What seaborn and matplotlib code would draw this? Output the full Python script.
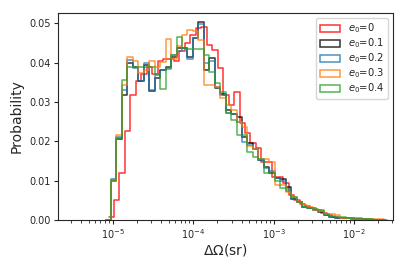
import numpy as np
import pandas as pd
import matplotlib
matplotlib.use("Agg")
import matplotlib.pyplot as plt
from matplotlib.patches import Patch
import seaborn as sns

# bin layout (log10 of solid angle)
bin_width = 0.0679
n_bins = 51
start_main = -5.090   # e0 = 0.1 ... 0.4
start_red = -5.053    # e0 = 0 is shifted a bit to the right

labels = [r"$e_0$=0", r"$e_0$=0.1", r"$e_0$=0.2", r"$e_0$=0.3", r"$e_0$=0.4"]
colors = ["red", "black", "tab:blue", "tab:orange", "tab:green"]

p_e00 = [0.0008, 0.005, 0.012, 0.0225, 0.0318, 0.0352, 0.037, 0.039, 0.037, 0.0403,
         0.0409, 0.041, 0.0405, 0.043, 0.045, 0.0471, 0.0488, 0.049, 0.0445, 0.0433,
         0.0386, 0.0318, 0.0293, 0.0325, 0.0246, 0.022, 0.0195, 0.0182, 0.0148, 0.0148,
         0.011, 0.011, 0.0093, 0.0064, 0.005, 0.0042, 0.0035, 0.003, 0.0025, 0.0019,
         0.0012, 0.0008, 0.0006, 0.0005, 0.0004, 0.0003, 0.0002, 0.0002, 0.0001, 0.0001, 0.0]
p_e01 = [0.0, 0.010, 0.0205, 0.0318, 0.040, 0.039, 0.0352, 0.0395, 0.0329, 0.036,
         0.038, 0.039, 0.0415, 0.0437, 0.0437, 0.0413, 0.0462, 0.0502, 0.038, 0.0411,
         0.0335, 0.032, 0.028, 0.027, 0.0263, 0.021, 0.0195, 0.018, 0.0153, 0.0135,
         0.012, 0.0108, 0.0105, 0.0085, 0.0053, 0.0047, 0.0034, 0.003, 0.0025, 0.002,
         0.0014, 0.0008, 0.0006, 0.0005, 0.0004, 0.0003, 0.0002, 0.0002, 0.0001, 0.0001, 0.0]
p_e02 = [0.0, 0.0105, 0.021, 0.033, 0.0406, 0.0386, 0.0352, 0.0399, 0.0331, 0.0369,
         0.038, 0.0386, 0.042, 0.043, 0.0437, 0.041, 0.0462, 0.0498, 0.040, 0.0404,
         0.0338, 0.0318, 0.0271, 0.027, 0.025, 0.0199, 0.019, 0.018, 0.0153, 0.0131,
         0.0125, 0.0106, 0.010, 0.008, 0.0053, 0.0047, 0.0034, 0.003, 0.0025, 0.0022,
         0.0013, 0.0007, 0.0006, 0.0006, 0.0004, 0.0003, 0.0003, 0.0002, 0.0002, 0.0001, 0.0]
p_e03 = [0.0, 0.010, 0.0215, 0.0343, 0.0413, 0.0405, 0.0373, 0.038, 0.0405, 0.0388,
         0.0402, 0.046, 0.041, 0.0441, 0.0471, 0.0484, 0.048, 0.0458, 0.0343, 0.0343,
         0.0338, 0.031, 0.0293, 0.028, 0.025, 0.0237, 0.0187, 0.018, 0.0155, 0.0155,
         0.0148, 0.0089, 0.0089, 0.0072, 0.0058, 0.0047, 0.0038, 0.0032, 0.0026, 0.0024,
         0.0015, 0.0016, 0.0014, 0.0006, 0.0004, 0.0003, 0.0003, 0.0002, 0.0002, 0.0002, 0.0002]
p_e04 = [0.0, 0.0102, 0.0209, 0.0355, 0.0389, 0.039, 0.039, 0.0388, 0.0388, 0.037,
         0.0333, 0.0385, 0.042, 0.0465, 0.0437, 0.0434, 0.0434, 0.0434, 0.042, 0.0377,
         0.0347, 0.0325, 0.0271, 0.0254, 0.0216, 0.0216, 0.0174, 0.0161, 0.0155, 0.0119,
         0.0119, 0.010, 0.0081, 0.0075, 0.0059, 0.0047, 0.0034, 0.003, 0.0028, 0.0026,
         0.0015, 0.0010, 0.0008, 0.0007, 0.0005, 0.0004, 0.0004, 0.0003, 0.0002, 0.0001, 0.0]

series = [p_e00, p_e01, p_e02, p_e03, p_e04]
starts = [start_red, start_main, start_main, start_main, start_main]

sns.set_style("ticks")
plt.rcParams["font.family"] = ["DejaVu Sans"]

fig = plt.figure(figsize=(4.07, 2.71), dpi=100)
ax = fig.add_axes([0.1425, 0.188, 0.823, 0.764])

for vals, st, col in zip(series, starts, colors):
    centers = 10 ** (st + bin_width * (np.arange(n_bins) + 0.5))
    df = pd.DataFrame({"x": centers, "w": vals})
    sns.histplot(data=df, x="x", weights="w", bins=n_bins,
                 binrange=(st, st + bin_width * n_bins), log_scale=True,
                 element="step", fill=False, color=col, linewidth=1.1,
                 alpha=0.8, ax=ax)

ax.set_xlim(2.08e-6, 3.06e-2)
ax.set_ylim(0, 0.0526)
ax.set_xlabel(r"$\Delta\Omega$(sr)", fontsize=10, labelpad=1)
ax.set_ylabel("Probability", fontsize=10, labelpad=4)
ax.tick_params(labelsize=7, length=3, width=0.8, pad=2)
ax.tick_params(which="minor", length=2, width=0.6)

handles = [Patch(facecolor="none", edgecolor=c, linewidth=1.1, alpha=0.8) for c in colors]
ax.legend(handles, labels, loc="upper right", fontsize=7.2, handlelength=2.0,
          handleheight=0.7, borderpad=0.35, labelspacing=0.12, framealpha=0.8)

fig.savefig("out.png", dpi=100)
